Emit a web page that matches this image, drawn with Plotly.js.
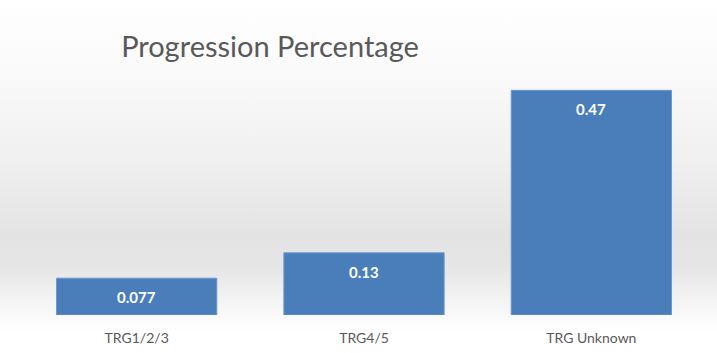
<!DOCTYPE html>
<html>
<head>
<meta charset="utf-8">
<script src="https://cdn.plot.ly/plotly-3.0.1.min.js"></script>
<style>
html,body{margin:0;padding:0;}
#chart{width:717px;height:353px;background:linear-gradient(to bottom,#ffffff 0%,#fafafa 20%,#f0f0f0 45%,#e3e3e3 67%,#e6e6e6 76%,#f6f6f6 87%,#ffffff 94%,#ffffff 100%);}
</style>
</head>
<body>
<div id="chart"></div>
<script>
const categories = ["TRG1/2/3", "TRG4/5", "TRG Unknown"];
const values = [0.077, 0.13, 0.47];
const labels = ["0.077", "0.13", "0.47"];

const trace = {
  type: "bar",
  x: categories,
  y: values,
  marker: {color: "#4a7ebb", line: {color: "#6a98cf", width: 1}},
  hoverinfo: "none"
};

const annotations = categories.map((c, i) => ({
  x: c, y: values[i], xref: "x", yref: "y",
  text: "<b>" + labels[i] + "</b>",
  showarrow: false, yanchor: "middle", yshift: -19,
  font: {family: "Lato, 'Open Sans', sans-serif", size: 15, color: "#ffffff"}
}));

const layout = {
  width: 717, height: 353,
  paper_bgcolor: "rgba(0,0,0,0)",
  plot_bgcolor: "rgba(0,0,0,0)",
  margin: {l: 23, r: 12, t: 76, b: 38},
  bargap: 0.295,
  showlegend: false,
  title: {
    text: "Progression Percentage",
    font: {family: "Lato, 'Open Sans', sans-serif", size: 29, color: "#595959"},
    x: 270 / 717, xanchor: "center", xref: "container",
    y: 1 - 47 / 353, yanchor: "middle", yref: "container"
  },
  xaxis: {
    showline: false, showgrid: false, zeroline: false,
    ticks: "outside", ticklen: 10, tickcolor: "rgba(0,0,0,0)",
    tickfont: {family: "Lato, 'Open Sans', sans-serif", size: 14, color: "#595959"}
  },
  yaxis: {
    range: [0, 0.5], visible: false, showgrid: false, zeroline: false
  },
  annotations: annotations
};

Plotly.newPlot("chart", [trace], layout, {displayModeBar: false, staticPlot: true});
</script>
</body>
</html>
